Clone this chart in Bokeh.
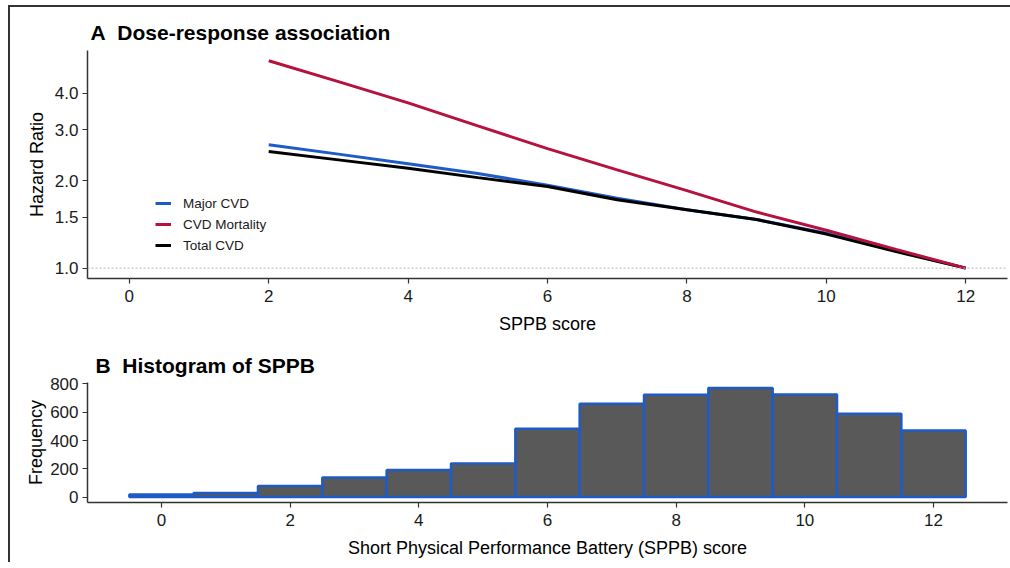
from bokeh.plotting import figure
from bokeh.layouts import column
from bokeh.models import (Range1d, FixedTicker, PrintfTickFormatter, Span, Legend,
                          LegendItem, Title, ColumnDataSource)
from bokeh.embed import file_html
from bokeh.resources import INLINE

# ---- data: dose-response (hazard ratio by SPPB score) ----
sppb_score = [2, 3, 4, 5, 6, 7, 8, 9, 10, 11, 12]
major_cvd = [2.66, 2.47, 2.29, 2.12, 1.93, 1.74, 1.59, 1.47, 1.32, 1.15, 1.00]
cvd_mortality = [5.18, 4.39, 3.71, 3.09, 2.58, 2.18, 1.85, 1.56, 1.35, 1.16, 1.00]
total_cvd = [2.52, 2.36, 2.21, 2.05, 1.91, 1.72, 1.59, 1.47, 1.31, 1.14, 1.00]
hr_ticks = [1.0, 1.5, 2.0, 3.0, 4.0]
x_ticks = [0, 2, 4, 6, 8, 10, 12]

# ---- data: histogram of SPPB ----
hist_score = [0, 1, 2, 3, 4, 5, 6, 7, 8, 9, 10, 11, 12]
hist_freq = [18, 28, 78, 138, 192, 238, 483, 660, 724, 772, 726, 590, 471]
freq_ticks = [0, 200, 400, 600, 800]

FONT = "Liberation Sans"
BLUE = "#1f5bc6"
RED = "#b5123e"
BLACK = "#000000"
AXIS = "#333333"
NB = "\u00a0"


def style(p, ylabel_standoff):
    p.grid.visible = False
    p.outline_line_color = None
    p.background_fill_color = "white"
    p.border_fill_color = "white"
    for ax in (p.xaxis[0], p.yaxis[0]):
        ax.axis_line_color = AXIS
        ax.axis_line_width = 1.5
        ax.major_tick_line_color = AXIS
        ax.major_tick_line_width = 1.2
        ax.major_tick_out = 5
        ax.major_tick_in = 0
        ax.minor_tick_line_color = None
        ax.major_label_text_font = FONT
        ax.major_label_text_font_size = "17px"
        ax.major_label_text_color = "#1a1a1a"
        ax.axis_label_text_font = FONT
        ax.axis_label_text_font_size = "18px"
        ax.axis_label_text_font_style = "normal"
        ax.axis_label_text_color = "#000000"
    p.xaxis.major_label_standoff = 6
    p.yaxis.major_label_standoff = 4
    p.xaxis.axis_label_standoff = 9
    p.yaxis.axis_label_standoff = ylabel_standoff


def add_title(p, text, offset, standoff):
    p.add_layout(Title(text=text, align="left", offset=offset, standoff=standoff,
                       text_font=FONT, text_font_size="21px", text_font_style="bold",
                       text_color="#000000"), "above")


# ---------------- panel A ----------------
p1 = figure(width=1000, height=333, output_backend="svg", toolbar_location=None,
            y_axis_type="log", x_range=Range1d(-0.6, 12.6), y_range=Range1d(0.921, 5.62),
            min_border_left=76, min_border_right=2, min_border_top=43, min_border_bottom=62)
style(p1, 5)
p1.xaxis.ticker = FixedTicker(ticks=x_ticks)
p1.yaxis.ticker = FixedTicker(ticks=hr_ticks)
p1.yaxis.formatter = PrintfTickFormatter(format="%.1f")
p1.xaxis.axis_label = "SPPB score"
p1.yaxis.axis_label = "Hazard Ratio"
add_title(p1, "A" + NB + NB + "Dose-response association", 3, 14)

p1.add_layout(Span(location=1.0, dimension="width", line_color="#b3b3b3",
                   line_dash="2 2", line_width=1))

src = ColumnDataSource(dict(x=sppb_score, major=major_cvd, mort=cvd_mortality, total=total_cvd))
r_major = p1.line("x", "major", source=src, line_color=BLUE, line_width=3)
r_total = p1.line("x", "total", source=src, line_color=BLACK, line_width=3)
r_mort = p1.line("x", "mort", source=src, line_color=RED, line_width=3)

legend = Legend(items=[LegendItem(label="Major CVD", renderers=[r_major]),
                       LegendItem(label="CVD Mortality", renderers=[r_mort]),
                       LegendItem(label="Total CVD", renderers=[r_total])],
                location=(68, 23), border_line_color=None, background_fill_alpha=0,
                glyph_width=16, glyph_height=20, label_height=20, spacing=1,
                label_standoff=12, padding=0, margin=0,
                label_text_font=FONT, label_text_font_size="13.5px",
                label_text_color="#1a1a1a")
p1.add_layout(legend, "center")

# ---------------- panel B ----------------
p2 = figure(width=1000, height=222, output_backend="svg", toolbar_location=None,
            x_range=Range1d(-1.15, 13.15), y_range=Range1d(-38.6, 810.6),
            min_border_left=77, min_border_right=3, min_border_top=42, min_border_bottom=60)
style(p2, 1)
p2.xaxis.ticker = FixedTicker(ticks=x_ticks)
p2.yaxis.ticker = FixedTicker(ticks=freq_ticks)
p2.xaxis.axis_label = "Short Physical Performance Battery (SPPB) score"
p2.yaxis.axis_label = "Frequency"
add_title(p2, "B" + NB + NB + "Histogram of SPPB", 8, 11)

hsrc = ColumnDataSource(dict(x=hist_score, top=hist_freq))
p2.vbar(x="x", top="top", bottom=0, width=1.0, source=hsrc,
        fill_color="#595959", line_color=BLUE, line_width=2.5)

layout = column(p1, p2, spacing=0, margin=(5, 0, 0, 8),
                styles={"border-top": "2px solid #333333", "border-left": "2px solid #333333"})

open("out.html", "w").write(file_html(layout, INLINE))
